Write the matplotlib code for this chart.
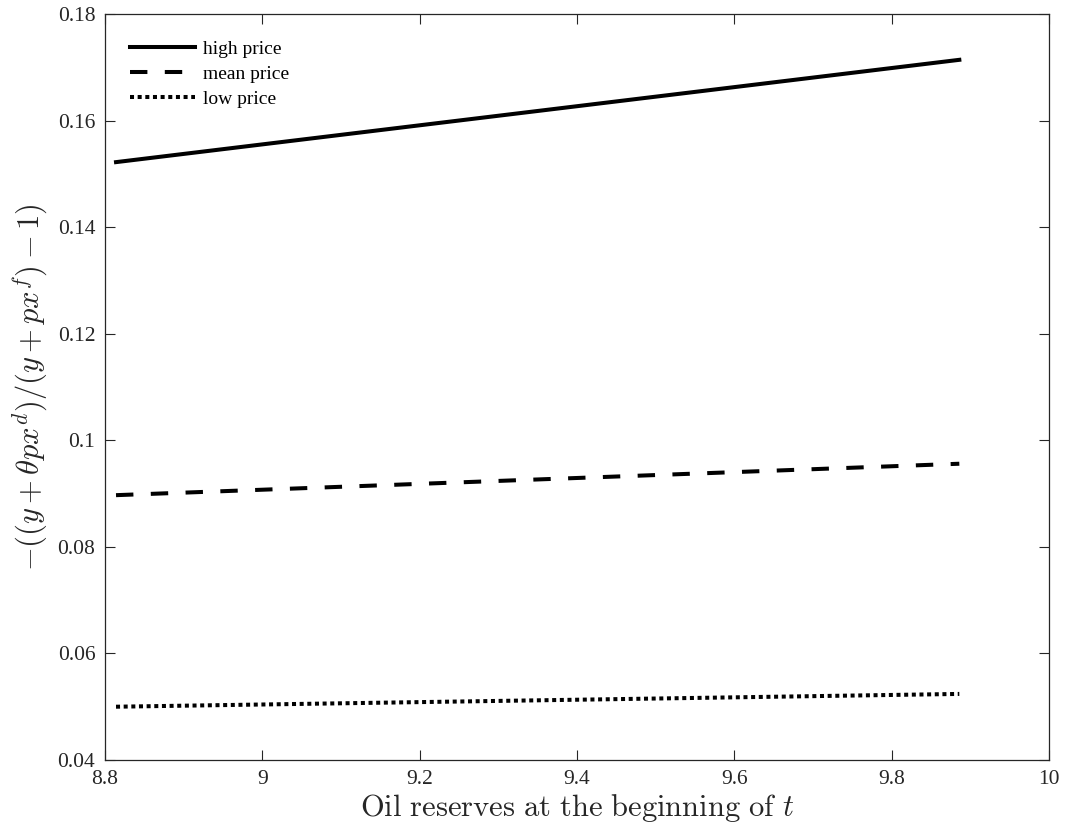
import matplotlib
matplotlib.use("Agg")
import matplotlib.pyplot as plt

plt.rcParams["mathtext.fontset"] = "cm"
plt.rcParams["font.family"] = ["Liberation Serif", "DejaVu Serif"]

reserves = [8.814, 9.886]
high_price = [0.1522, 0.1714]
mean_price = [0.0897, 0.0956]
low_price = [0.0500, 0.0524]

xticks = [8.8, 9.0, 9.2, 9.4, 9.6, 9.8, 10.0]
xtick_labels = ["8.8", "9", "9.2", "9.4", "9.6", "9.8", "10"]
yticks = [0.04, 0.06, 0.08, 0.10, 0.12, 0.14, 0.16, 0.18]
ytick_labels = ["0.04", "0.06", "0.08", "0.1", "0.12", "0.14", "0.16", "0.18"]

fig = plt.figure(figsize=(10.66, 8.32), dpi=100)
ax = fig.add_axes([105 / 1066, 1 - 760 / 832, (1049 - 105) / 1066, (760 - 14) / 832])

lw = 2.9
ax.plot(reserves, high_price, color="black", lw=lw, ls="-", label="high price")
ax.plot(reserves, mean_price, color="black", lw=lw, ls=(0, (4.32, 4.32)), label="mean price")
ax.plot(reserves, low_price, color="black", lw=lw, ls=(0, (1.0, 0.9)), label="low price")

ax.set_xlim(8.8, 10.0)
ax.set_ylim(0.04, 0.18)
ax.set_xticks(xticks)
ax.set_xticklabels(xtick_labels)
ax.set_yticks(yticks)
ax.set_yticklabels(ytick_labels)
ax.tick_params(direction="in", top=True, right=True, labelsize=15.5, length=7,
               width=0.8, colors="#262626", labelcolor="#262626")
ax.tick_params(axis="y", pad=7)
ax.tick_params(axis="x", pad=7)
for s in ax.spines.values():
    s.set_linewidth(0.9)
    s.set_color("#262626")

ax.set_xlabel(r"$\mathrm{Oil\ reserves\ at\ the\ beginning\ of}\ t$", fontsize=22,
              color="#262626", labelpad=2)
ax.set_ylabel(r"$-((y+\theta p x^{d})/(y+p x^{f})-1)$", fontsize=22,
              color="#262626", labelpad=5)

leg = ax.legend(loc="upper left", frameon=False, fontsize=14, handlelength=3.35,
                handletextpad=0.4, labelspacing=0.38, borderaxespad=0.0,
                borderpad=0.0, bbox_to_anchor=(25 / 944, 1 - 26 / 746))

fig.savefig("out.png", dpi=100)
